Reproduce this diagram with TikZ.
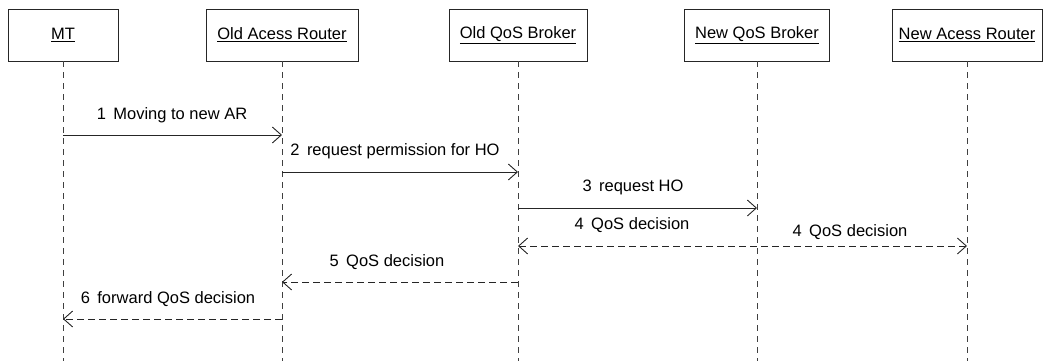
\documentclass[tikz,border=0pt]{standalone}
\usepackage{fontspec}
\setmainfont{Liberation Sans}
\usetikzlibrary{arrows.meta}
\newcommand{\msgfont}{\fontsize{16.5}{20}\selectfont}
\begin{document}
\begin{tikzpicture}[x=1pt,y=-1pt,
  obj/.style={draw=black!85, line width=0.9pt, minimum height=52pt, inner sep=0pt, font=\msgfont},
  lifeline/.style={draw=black!75, line width=0.9pt, dash pattern=on 6pt off 5pt},
  call/.style={draw=black!85, line width=0.9pt, -{Straight Barb[length=9pt,width=16pt]}},
  reply/.style={call, dash pattern=on 7pt off 4pt},
  lbl/.style={anchor=base, inner sep=0pt, font=\msgfont}]
\useasboundingbox (0,0) rectangle (1043,361);

% objects
\node[obj, minimum width=110pt] (mt)  at (63,35)    {\underline{MT}};
\node[obj, minimum width=152pt] (oar) at (282,35)   {\underline{Old Acess Router}};
\node[obj, minimum width=138pt] (oqb) at (518,35)   {\underline{Old QoS Broker}};
\node[obj, minimum width=145pt] (nqb) at (757,35)   {\underline{New QoS Broker}};
\node[obj, minimum width=150pt] (nar) at (967,35)   {\underline{New Acess Router}};

% lifelines
\foreach \o in {mt,oar,oqb,nqb,nar}{
  \coordinate (\o end) at ([yshift=-300pt]\o.south);
  \draw[lifeline] (\o.south) -- (\o end);
}

% messages
\draw[call]  (mt.south |- 0,135) -- (oar.south |- 0,135);
\node[lbl] (l1) at (172,119) {1\hspace{0.45em}Moving to new AR};

\draw[call]  (oar.south |- 0,172) -- (oqb.south |- 0,172);
\node[lbl] (l2) at (395,155) {2\hspace{0.45em}request permission for HO};

\draw[call]  (oqb.south |- 0,208) -- (nqb.south |- 0,208);
\node[lbl] (l3) at (633,191) {3\hspace{0.45em}request HO};

\draw[reply, {Straight Barb[length=9pt,width=16pt]}-{Straight Barb[length=9pt,width=16pt]}]
  (oqb.south |- 0,246) -- (nar.south |- 0,246);
\node[lbl] (l4a) at (632,229) {4\hspace{0.45em}QoS decision};
\node[lbl] (l4b) at (850,236) {4\hspace{0.45em}QoS decision};

\draw[reply] (oqb.south |- 0,282) -- (oar.south |- 0,282);
\node[lbl] (l5) at (387,266) {5\hspace{0.45em}QoS decision};

\draw[reply] (oar.south |- 0,319) -- (mt.south |- 0,319);
\node[lbl] (l6) at (168,303) {6\hspace{0.45em}forward QoS decision};
\end{tikzpicture}
\end{document}
